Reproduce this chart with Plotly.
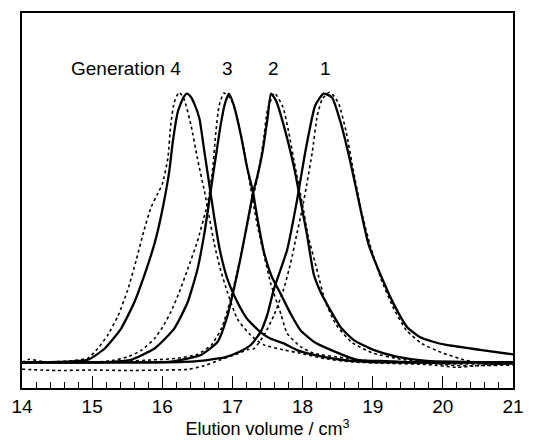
import plotly.graph_objects as go

# Generation 4
g4_solid_x = [14.0, 14.5, 14.94, 15.18, 15.41, 15.60, 15.74, 15.89, 15.98, 16.10, 16.15, 16.22, 16.30, 16.35, 16.40, 16.46, 16.53, 16.60, 16.67, 16.74, 16.82, 16.93, 17.05, 17.21, 17.40, 17.54, 17.73, 17.92, 18.16, 18.50, 18.78, 19.2, 20.0, 21.0]
g4_solid_y = [0.0, 0.002, 0.010, 0.052, 0.125, 0.223, 0.321, 0.443, 0.541, 0.712, 0.821, 0.931, 0.985, 1.0, 0.99, 0.96, 0.907, 0.785, 0.663, 0.541, 0.419, 0.309, 0.235, 0.162, 0.113, 0.089, 0.071, 0.046, 0.028, 0.012, 0.004, 0.0, 0.0, 0.0]
g4_dot_x = [14.0, 14.1, 14.3, 14.6, 14.94, 15.08, 15.22, 15.37, 15.51, 15.63, 15.74, 15.84, 15.93, 16.00, 16.08, 16.12, 16.17, 16.24, 16.31, 16.41, 16.50, 16.60, 16.67, 16.74, 16.83, 16.93, 17.07, 17.26, 17.45, 17.73, 17.97, 18.3, 18.7, 19.2, 19.8, 20.2, 20.5, 21.0]
g4_dot_y = [0.0, 0.012, 0.003, 0.004, 0.016, 0.052, 0.101, 0.174, 0.272, 0.382, 0.492, 0.577, 0.626, 0.663, 0.76, 0.882, 0.968, 1.005, 0.98, 0.882, 0.76, 0.638, 0.541, 0.443, 0.345, 0.26, 0.162, 0.101, 0.065, 0.047, 0.034, 0.015, 0.002, -0.003, -0.008, -0.018, -0.012, -0.01]

# Generation 3
g3_solid_x = [14.0, 15.0, 15.27, 15.55, 15.89, 16.17, 16.36, 16.50, 16.60, 16.69, 16.76, 16.83, 16.89, 16.95, 17.02, 17.12, 17.21, 17.29, 17.36, 17.45, 17.56, 17.69, 17.83, 17.97, 18.16, 18.40, 18.78, 19.2, 19.6, 21.0]
g3_solid_y = [0.0, 0.0, 0.002, 0.01, 0.052, 0.126, 0.223, 0.345, 0.48, 0.638, 0.76, 0.88, 0.96, 1.0, 0.956, 0.846, 0.724, 0.638, 0.53, 0.41, 0.32, 0.254, 0.181, 0.12, 0.077, 0.047, 0.01, 0.005, 0.0, 0.0]
g3_dot_x = [14.0, 15.0, 15.3, 15.5, 15.7, 15.89, 16.0, 16.12, 16.24, 16.36, 16.5, 16.62, 16.67, 16.72, 16.76, 16.81, 16.88, 16.98, 17.07, 17.17, 17.26, 17.35, 17.45, 17.55, 17.69, 17.78, 17.97, 18.16, 18.63, 19.0, 19.3, 20.0, 21.0]
g3_dot_y = [0.0, 0.0, 0.008, 0.02, 0.045, 0.089, 0.13, 0.187, 0.26, 0.345, 0.45, 0.565, 0.626, 0.724, 0.846, 0.956, 1.002, 0.98, 0.907, 0.785, 0.65, 0.516, 0.40, 0.29, 0.181, 0.108, 0.059, 0.034, 0.016, 0.005, 0.0, -0.005, -0.005]

# Generation 2
g2_solid_x = [14.0, 15.5, 16.12, 16.55, 16.79, 16.93, 17.02, 17.12, 17.21, 17.30, 17.35, 17.43, 17.50, 17.55, 17.62, 17.73, 17.88, 17.97, 18.06, 18.16, 18.25, 18.40, 18.54, 18.73, 19.01, 19.34, 19.77, 21.0]
g2_solid_y = [0.0, 0.0, 0.003, 0.028, 0.077, 0.174, 0.272, 0.394, 0.516, 0.638, 0.687, 0.785, 0.907, 1.0, 0.975, 0.883, 0.724, 0.602, 0.48, 0.327, 0.266, 0.193, 0.132, 0.083, 0.047, 0.022, 0.006, 0.0]
g2_dot_x = [14.0, 15.0, 15.5, 15.9, 16.2, 16.5, 16.7, 16.85, 16.97, 17.07, 17.18, 17.28, 17.36, 17.44, 17.50, 17.60, 17.72, 17.80, 17.90, 17.99, 18.08, 18.20, 18.32, 18.48, 18.70, 19.0, 19.4, 19.8, 20.1, 20.4, 21.0]
g2_dot_y = [0.0, 0.0, 0.005, 0.01, 0.015, 0.03, 0.065, 0.13, 0.23, 0.34, 0.47, 0.6, 0.69, 0.82, 0.94, 1.002, 0.95, 0.86, 0.72, 0.6, 0.47, 0.35, 0.23, 0.14, 0.075, 0.035, 0.012, 0.0, -0.01, -0.012, -0.005]

# Generation 1
g1_solid_x = [14.0, 16.0, 16.5, 16.9, 17.1, 17.26, 17.40, 17.50, 17.59, 17.78, 17.92, 18.04, 18.18, 18.30, 18.42, 18.54, 18.68, 18.82, 18.94, 19.11, 19.30, 19.49, 19.67, 19.85, 20.05, 20.53, 21.0]
g1_solid_y = [0.0, 0.0, 0.005, 0.02, 0.04, 0.065, 0.113, 0.18, 0.272, 0.419, 0.602, 0.785, 0.956, 1.0, 0.986, 0.895, 0.748, 0.577, 0.44, 0.327, 0.217, 0.132, 0.095, 0.078, 0.065, 0.047, 0.03]
g1_dot_x = [14.0, 14.5, 15.0, 15.5, 16.0, 16.36, 16.6, 16.84, 17.05, 17.22, 17.31, 17.45, 17.59, 17.73, 17.83, 17.92, 17.99, 18.06, 18.14, 18.21, 18.28, 18.38, 18.45, 18.52, 18.62, 18.72, 18.84, 18.97, 19.12, 19.30, 19.48, 19.70, 20.0, 20.3, 20.6, 21.0]
g1_dot_y = [-0.025, -0.03, -0.028, -0.03, -0.028, -0.026, -0.012, 0.011, 0.03, 0.048, 0.052, 0.101, 0.174, 0.272, 0.37, 0.48, 0.565, 0.663, 0.785, 0.919, 0.98, 1.005, 0.99, 0.96, 0.86, 0.72, 0.56, 0.43, 0.31, 0.2, 0.12, 0.07, 0.035, 0.01, -0.005, -0.005]

gen_labels = ["Generation 4", "3", "2", "1"]
gen_label_x = [16.29, 16.93, 17.59, 18.33]
gen_label_y = 1.095

FONT = "Liberation Sans, Arial, Helvetica, sans-serif"

fig = go.Figure()
series = [
    (g4_dot_x, g4_dot_y, "dot"), (g3_dot_x, g3_dot_y, "dot"),
    (g2_dot_x, g2_dot_y, "dot"), (g1_dot_x, g1_dot_y, "dot"),
    (g4_solid_x, g4_solid_y, "solid"), (g3_solid_x, g3_solid_y, "solid"),
    (g2_solid_x, g2_solid_y, "solid"), (g1_solid_x, g1_solid_y, "solid"),
]
for xs, ys, dash in series:
    fig.add_trace(go.Scatter(
        x=xs, y=ys, mode="lines",
        line=dict(color="black", width=2.3 if dash == "solid" else 1.6,
                  dash=dash, shape="spline", smoothing=0.5),
        showlegend=False, hoverinfo="skip"))

for i, t in enumerate(gen_labels):
    fig.add_annotation(x=gen_label_x[i], y=gen_label_y, text=t, showarrow=False,
                       xanchor="right" if i == 0 else "center", yanchor="middle",
                       font=dict(family=FONT, size=19, color="black"))

fig.update_layout(
    width=536, height=440,
    margin=dict(l=20, r=23, t=11, b=48),
    plot_bgcolor="white", paper_bgcolor="white",
    font=dict(family=FONT, size=19, color="black"),
    xaxis=dict(range=[14, 21], tickmode="linear", tick0=14, dtick=1,
               ticks="inside", ticklen=12, tickwidth=1.3, tickcolor="black",
               minor=dict(ticks="inside", ticklen=6, dtick=0.2, tickwidth=1.2, tickcolor="black"),
               showline=True, linecolor="black", linewidth=1.5, mirror=True,
               showgrid=False, zeroline=False,
               tickfont=dict(family=FONT, size=19),
               title=dict(text="Elution volume / cm<sup>3</sup>", standoff=0,
                          font=dict(family=FONT, size=18))),
    yaxis=dict(range=[-0.095, 1.30], showticklabels=False, ticks="",
               showline=True, linecolor="black", linewidth=1.5, mirror=True,
               showgrid=False, zeroline=False),
)

fig.write_html("out.html")
